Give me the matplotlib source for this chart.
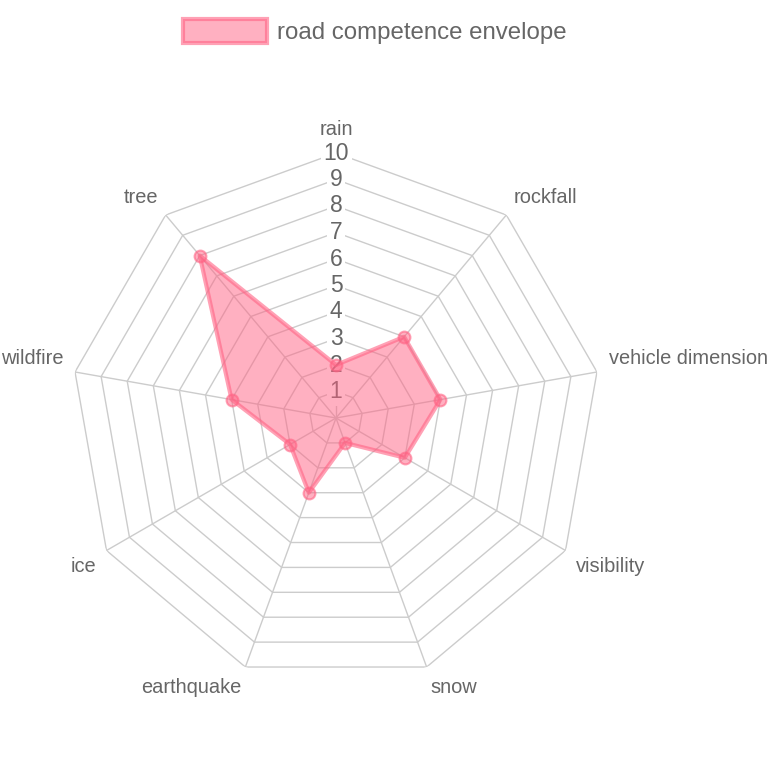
import numpy as np
import matplotlib
matplotlib.use("Agg")
import matplotlib.pyplot as plt

plt.rcParams['font.family'] = ['Liberation Sans', 'DejaVu Sans']

categories = ["rain", "rockfall", "vehicle dimension", "visibility", "snow",
              "earthquake", "ice", "wildfire", "tree"]
values = [2, 4, 4, 3, 1, 3, 2, 4, 8]
tick_values = [1, 2, 3, 4, 5, 6, 7, 8, 9, 10]
series_label = "road competence envelope"
r_max = 10

pink = (1.0, 99 / 255, 132 / 255)
text_color = "#666666"
grid_color = "#cccccc"

fig = plt.figure(figsize=(7.72, 7.72), dpi=100)
W = 772.0
cx, cy, R = 336.0, 418.0, 265.0
ax = fig.add_axes([(cx - R) / W, (W - cy - R) / W, 2 * R / W, 2 * R / W],
                  projection="polar")
ax.set_theta_offset(np.pi / 2)
ax.set_theta_direction(-1)
ax.set_ylim(0, r_max)
ax.axis("off")

n = len(categories)
theta = np.arange(n) * 2 * np.pi / n
theta_c = np.append(theta, theta[0])

# polygon grid
for k in tick_values:
    ax.plot(theta_c, [k] * (n + 1), color=grid_color, lw=1.0, zorder=1)
# spokes
for t in theta:
    ax.plot([t, t], [0, r_max], color=grid_color, lw=1.0, zorder=1)

# tick labels with white backdrop
for k in tick_values:
    ax.text(0, k, str(k), ha="center", va="center", fontsize=16.5, color=text_color,
            zorder=2, bbox=dict(boxstyle="square,pad=0.12", fc="white", ec="none"))

# data
vals_c = values + values[:1]
ax.fill(theta_c, vals_c, facecolor=pink + (0.5,), edgecolor=pink + (0.6,),
        lw=3.0, zorder=3, label=series_label, joinstyle="round")
ax.plot(theta, values, "o", ms=8.5, mfc=pink + (0.5,), mec=pink + (0.6,), mew=1.5,
        zorder=4, linestyle="none")

# point labels
for t, name in zip(theta, categories):
    s, c = np.sin(t), np.cos(t)
    if abs(s) < 1e-6:
        ha = "center"
    elif s > 0:
        ha = "left"
    else:
        ha = "right"
    dx = 12 * s
    if c > -1e-6:
        va = "baseline"
        dy = 7 + 6 * c
        if abs(s) < 1e-6:
            dy += 5
    else:
        va = "top"
        dy = -12 * abs(c)
    ax.annotate(name, xy=(t, r_max), xytext=(dx, dy), textcoords="offset pixels",
                ha=ha, va=va, fontsize=14.4, color=text_color, zorder=5,
                annotation_clip=False)

fig.legend(loc="center", bbox_to_anchor=(375 / W, 1 - 31.5 / W), frameon=False,
           fontsize=17.3, handlelength=3.5, handleheight=1.2, handletextpad=0.4,
           borderpad=0, labelcolor=text_color)

fig.savefig("out.png", dpi=100)
